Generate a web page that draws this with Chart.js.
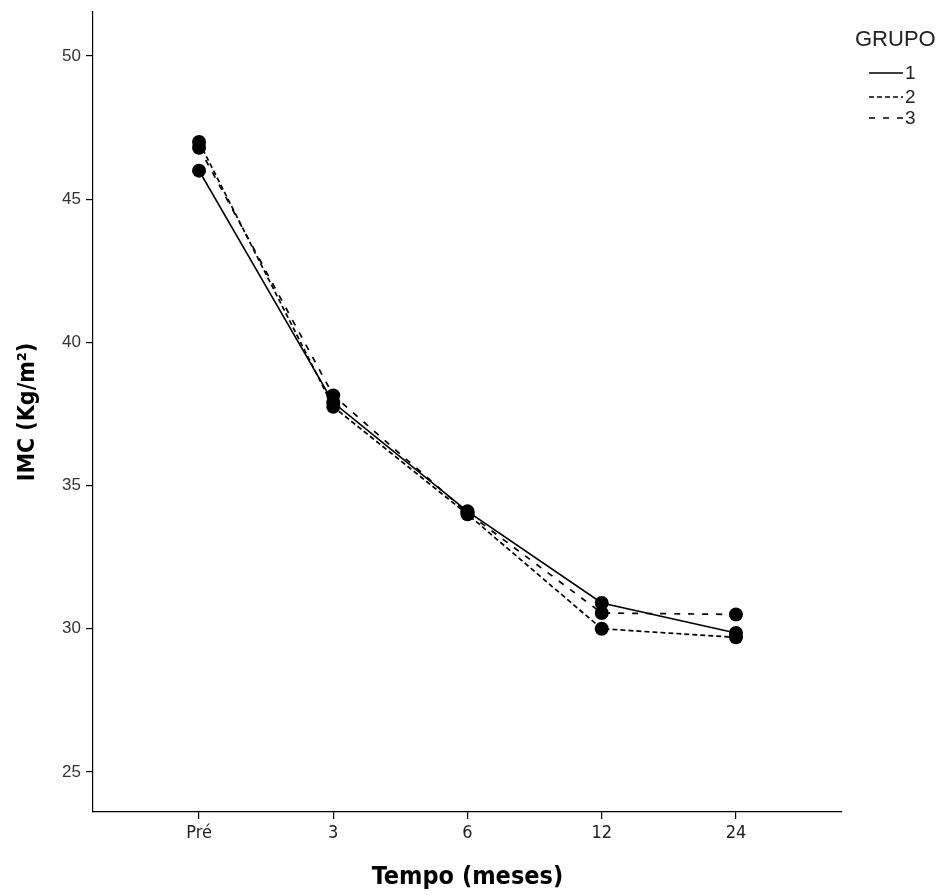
<!DOCTYPE html>
<html><head><meta charset="utf-8">
<script src="https://cdn.jsdelivr.net/npm/chart.js@4/dist/chart.umd.min.js"></script>
<style>html,body{margin:0;padding:0;background:#fff}#wrap{width:942px;height:895px;position:relative}</style>
</head><body><div id="wrap"><canvas id="c" width="942" height="895"></canvas></div>
<script>
const categories = ["Pré", "3", "6", "12", "24"];
const group1 = [46.0, 37.9, 34.1, 30.9, 29.85];
const group2 = [47.0, 37.75, 34.0, 30.0, 29.7];
const group3 = [46.8, 38.15, 34.05, 30.55, 30.5];
const yTicks = [25, 30, 35, 40, 45, 50];
const seriesNames = ["1", "2", "3"];
const dashes = [[], [5, 3], [6, 8]];

const toXY = arr => arr.map((v, i) => ({x: i, y: v}));
const mk = (data, i) => ({
  label: seriesNames[i], data: toXY(data), borderColor: '#000', backgroundColor: '#000',
  borderWidth: 1.7, borderDash: dashes[i], pointRadius: 7, pointHoverRadius: 7,
  pointBackgroundColor: '#000', pointBorderColor: '#000', pointBorderWidth: 0, tension: 0, fill: false
});

const legendPlugin = {
  id: 'legendSpss',
  afterDraw(chart) {
    const ctx = chart.ctx;
    ctx.save();
    ctx.fillStyle = '#222';
    ctx.font = '22px "Liberation Sans", Arial, sans-serif';
    ctx.textBaseline = 'middle';
    ctx.textAlign = 'left';
    ctx.fillText('GRUPO', 855, 40);
    ctx.font = '19px "Liberation Sans", Arial, sans-serif';
    const ys = [73, 97, 118];
    for (let i = 0; i < 3; i++) {
      ctx.beginPath();
      ctx.strokeStyle = '#000';
      ctx.lineWidth = 1.7;
      ctx.setLineDash(dashes[i]);
      ctx.moveTo(869, ys[i]); ctx.lineTo(903, ys[i]);
      ctx.stroke();
      ctx.setLineDash([]);
      ctx.fillText(seriesNames[i], 905, ys[i] + 1);
    }
    ctx.restore();
  }
};

new Chart(document.getElementById('c'), {
  type: 'line',
  data: { datasets: [mk(group1, 0), mk(group2, 1), mk(group3, 2)] },
  options: {
    responsive: false, animation: false,
    layout: { padding: { top: 12, right: 100, left: 0, bottom: 0 } },
    plugins: { legend: { display: false }, tooltip: { enabled: false } },
    scales: {
      x: {
        type: 'linear', min: -0.79, max: 4.79,
        afterBuildTicks: s => { s.ticks = categories.map((c, i) => ({value: i})); },
        afterFit: s => { s.height = 83; s.paddingLeft = 0; s.paddingRight = 0; },
        ticks: { callback: v => categories[v], color: '#222', padding: 4, maxRotation: 0,
          font: { family: '"DejaVu Sans Condensed", "DejaVu Sans", Arial', size: 18 } },
        grid: { drawOnChartArea: false, drawTicks: true, tickLength: 7, color: '#000', lineWidth: 1.2 },
        border: { display: true, color: '#000', width: 1.2 },
        title: { display: true, text: 'Tempo (meses)', color: '#000', padding: { top: 8, bottom: 3 },
          font: { family: '"DejaVu Sans Condensed", "DejaVu Sans", Arial', size: 25, weight: 'bold' } }
      },
      y: {
        type: 'linear', min: 23.6, max: 51.54,
        afterBuildTicks: s => { s.ticks = yTicks.map(v => ({value: v})); },
        afterFit: s => { s.width = 93; s.paddingTop = 0; s.paddingBottom = 0; },
        ticks: { color: '#333', padding: 5,
          font: { family: '"Liberation Sans", Arial', size: 17 } },
        grid: { drawOnChartArea: false, drawTicks: true, tickLength: 7, color: '#000', lineWidth: 1.2 },
        border: { display: true, color: '#000', width: 1.2 },
        title: { display: true, text: 'IMC (Kg/m²)', color: '#000', padding: { top: 14, bottom: 4 },
          font: { family: '"DejaVu Sans Condensed", "DejaVu Sans", Arial', size: 23, weight: 'bold' } }
      }
    }
  },
  plugins: [legendPlugin]
});
</script></body></html>
